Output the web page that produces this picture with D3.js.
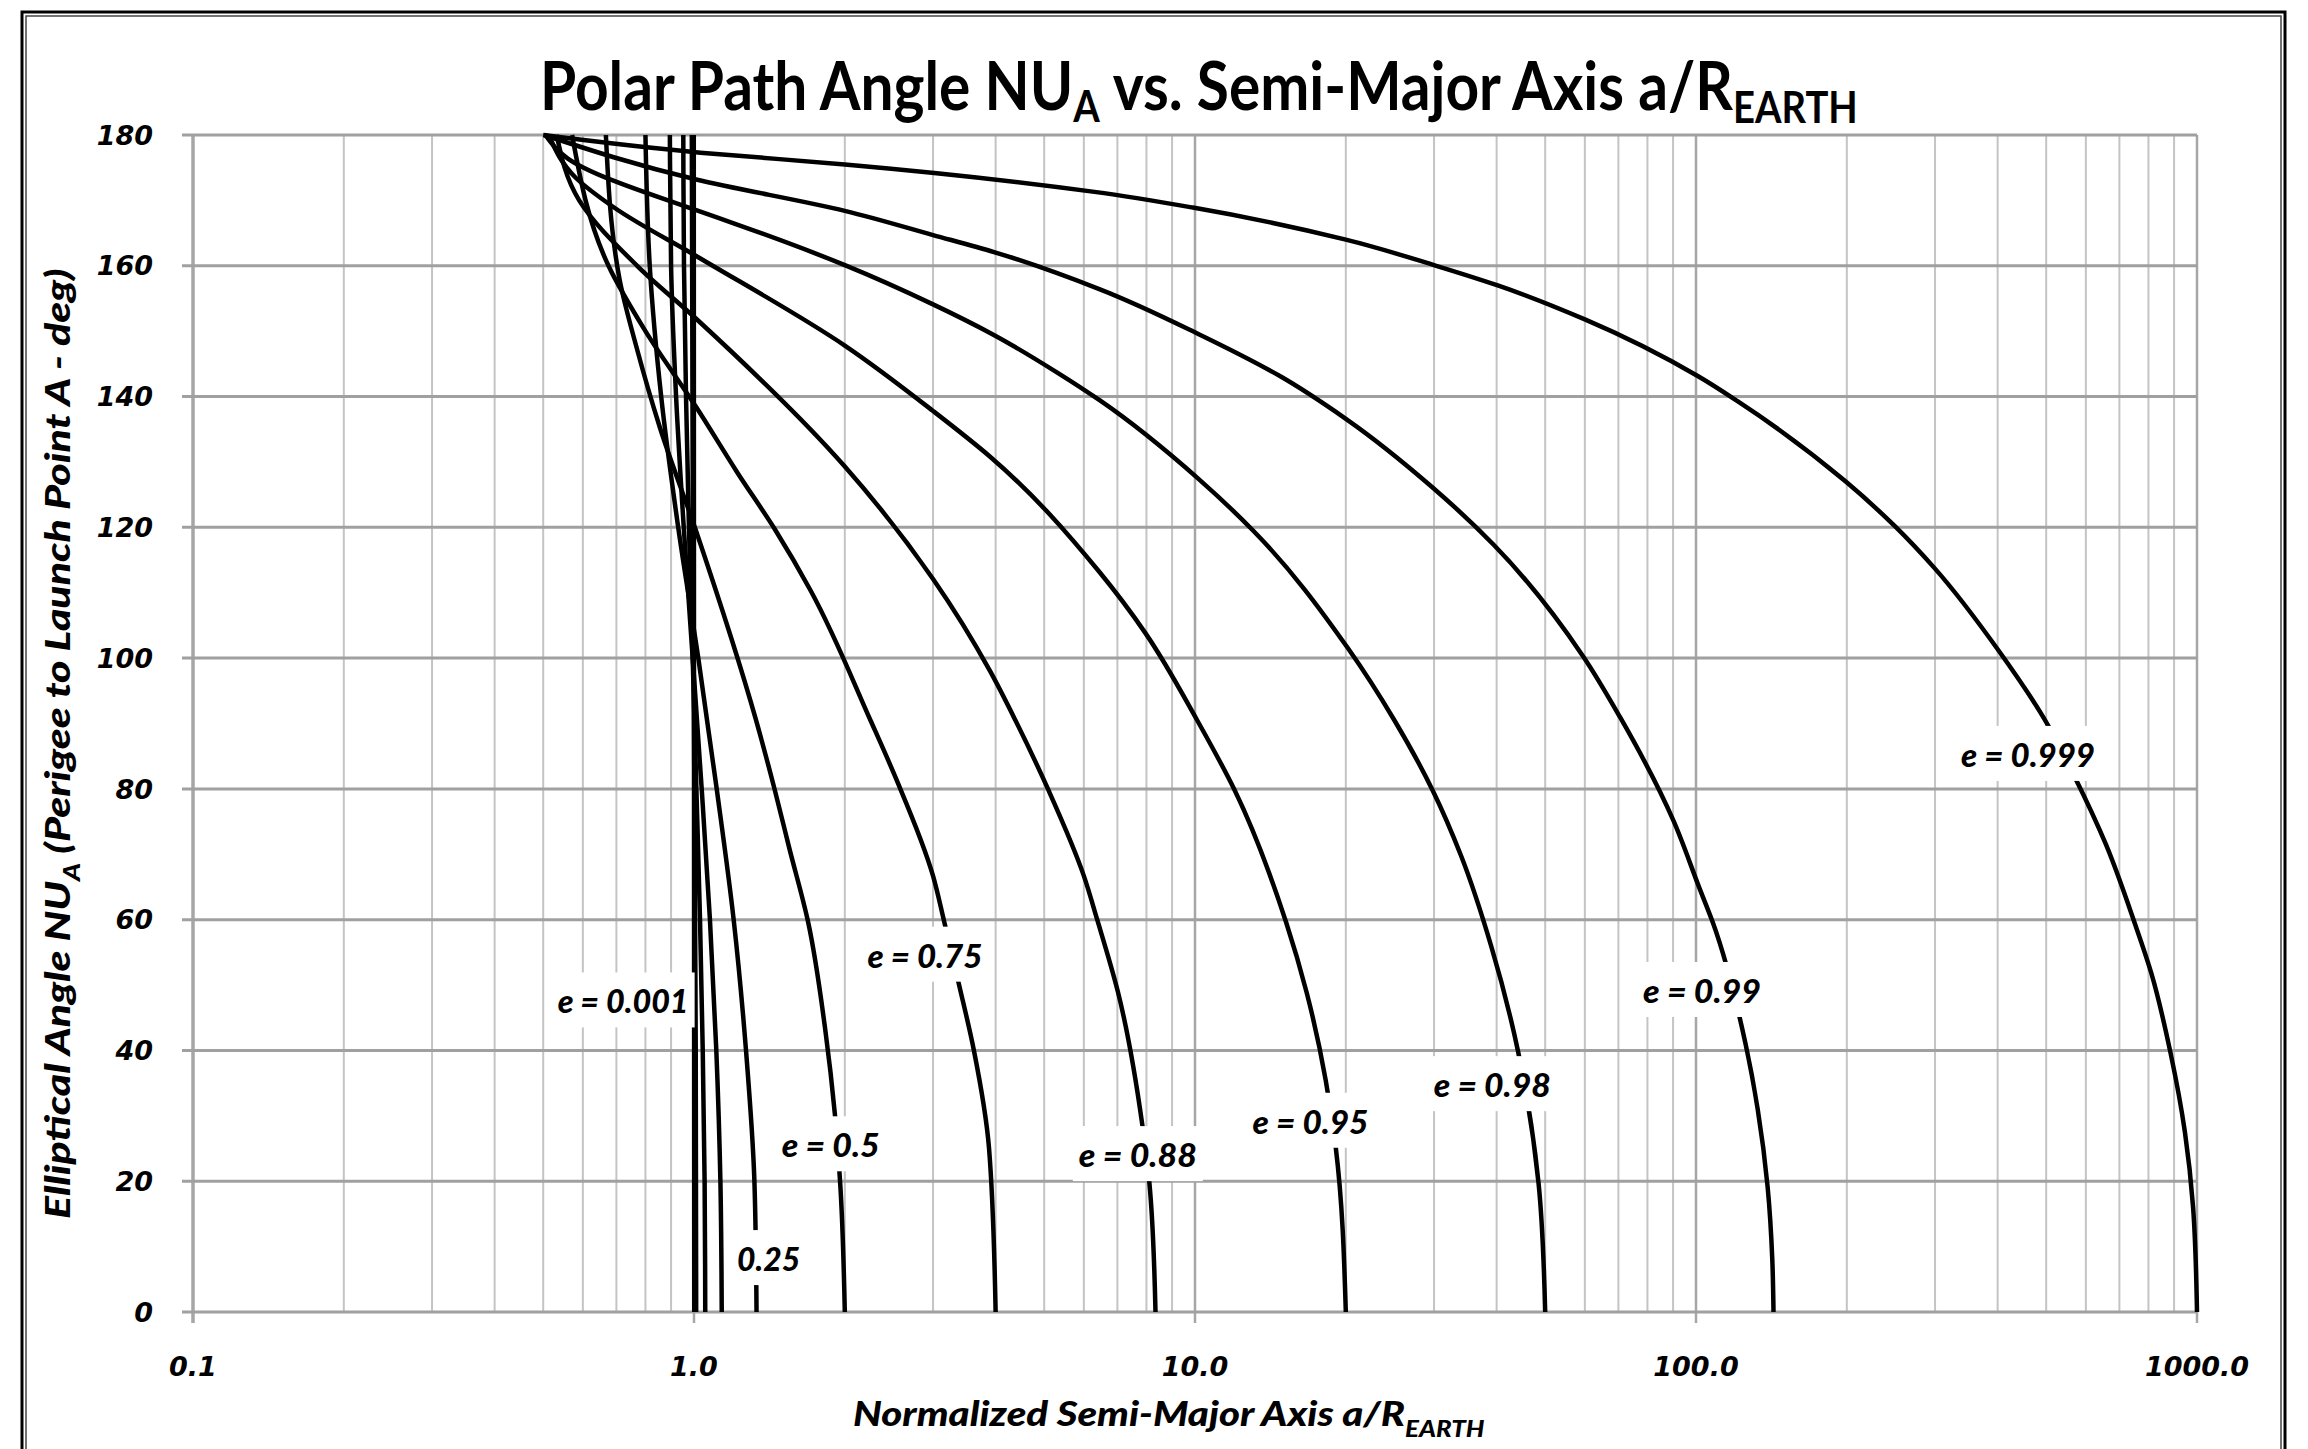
<!DOCTYPE html>
<html>
<head>
<meta charset="utf-8">
<script src="https://cdn.jsdelivr.net/npm/d3@7"></script>
<style>
  body { margin: 0; background: #fff; }
  svg { display: block; }
</style>
</head>
<body>
<div id="chart"></div>
<script>
// ---- data (a/R_earth, NU_A in deg) ----
const xTicks = [0.1, 1, 10, 100, 1000];
const xTickLabels = ["0.1", "1.0", "10.0", "100.0", "1000.0"];
const yTicks = [0, 20, 40, 60, 80, 100, 120, 140, 160, 180];

const e0_001 = [[0.999, 180], [1.0, 90], [1.001, 0]];
const e0_01 = [[0.990, 180], [0.993, 140], [0.995, 120], [1.0, 90], [1.005, 60], [1.008, 40], [1.010, 0]];
const e0_05 = [[0.952, 180], [0.955, 160], [0.964, 140], [0.977, 120], [0.994, 100], [1.011, 80],
  [1.028, 60], [1.041, 40], [1.050, 20], [1.053, 0]];
const e0_12 = [[0.895, 180], [0.90, 160], [0.921, 140], [0.954, 120], [0.994, 100], [1.036, 80],
  [1.076, 60], [1.108, 40], [1.129, 20], [1.136, 0]];
const e0_25 = [[0.80, 180], [0.816, 160], [0.86, 140], [0.93, 120], [1.02, 100], [1.11, 80],
  [1.2, 60], [1.27, 40], [1.32, 20], [1.333, 0]];
const e0_5 = [[0.667, 180], [0.71, 158], [0.77, 147.2], [0.853, 135.5], [1.01, 119.4], [1.33, 90.5],
  [1.45, 79.8], [1.55, 70.9], [1.69, 59.6], [1.83, 42.9], [1.91, 30.4], [1.96, 19.1], [2.0, 0]];
const e0_75 = [[0.571, 180], [0.675, 160], [0.8, 150], [1.01, 138.4], [1.22, 128.4], [1.45, 119.7],
  [1.71, 110.3], [2.25, 90.5], [2.53, 81.6], [3.0, 66.7], [3.16, 59.6], [3.38, 50.1], [3.62, 40.0],
  [3.88, 25.1], [4.0, 0]];
const e0_88 = [[0.532, 180], [0.59, 170], [0.77, 160], [1.01, 151.9], [2.0, 129.3], [3.0, 112.1],
  [3.9, 98], [4.38, 90.5], [5.1, 79.8], [6.0, 66.7], [6.38, 60], [7.02, 48.9], [7.85, 28.6],
  [8.11, 19.7], [8.34, 0]];
const e0_95 = [[0.513, 180], [0.58, 173.5], [0.696, 168.8], [1.01, 161.5], [2.0, 147.8], [3.0, 137.8],
  [3.9, 130.8], [6.44, 113.2], [7.95, 103.9], [10.1, 90.5], [12.0, 79.8], [15.2, 59.6], [16.7, 48.9],
  [19.1, 25.1], [20, 0]];
const e0_98 = [[0.505, 180], [0.56, 176.4], [1.01, 168.5], [1.2, 166.5], [2.0, 160.1], [3.0, 154.1],
  [3.95, 149.5], [5.3, 143.7], [6.46, 139.4], [10.2, 127.3], [13.1, 119.4], [20.2, 101.5], [25.0, 90.5],
  [29.8, 79.8], [34.0, 69.7], [39.0, 56.0], [44.1, 40.0], [48.5, 19.7], [50, 0]];
const e0_99 = [[0.502, 180], [1.01, 173.2], [2.0, 168.4], [3.0, 164.7], [3.97, 162.1], [6.46, 156.4],
  [10.2, 149.5], [14.8, 143.1], [20.0, 136.6], [29.8, 126.1], [39.5, 117.3], [59.5, 100.3], [70.5, 91.0],
  [90.2, 75.1], [101.5, 64.9], [108, 59.6], [125.5, 41.1], [132.8, 31.0], [139, 19.1], [142, 8], [142.8, 0]];
const e0_999 = [[0.5, 180], [1.03, 177.3], [2.0, 175.5], [6.3, 171.3], [9.9, 168.9], [20.0, 164.0],
  [30.3, 160.0], [40.2, 157.0], [60.0, 151.8], [101, 143.1], [121, 139.3], [199, 127.0], [250, 120.1],
  [299, 113.8], [404, 100.9], [493, 91.0], [572, 81.6], [658, 71.5], [750, 59.6], [810, 51.9],
  [885, 39.7], [946, 27.5], [982, 16.1], [1000, 0]];

const labelTexts = ["e = 0.001", "0.25", "e = 0.5", "e = 0.75", "e = 0.88", "e = 0.95", "e = 0.98", "e = 0.99", "e = 0.999"];
const labelA = [0.722, 1.409, 1.874, 2.89, 7.69, 17.0, 39.2, 102.8, 460];
const labelNu = [47.8, 8.4, 25.8, 54.8, 24.3, 29.4, 35.0, 49.4, 85.5];

// ---- layout ----
const width = 2308, height = 1449;
const plotLeft = 193, plotRight = 2197, plotTop = 135, plotBottom = 1312;
const labelWidths = [131, 63, 98, 115, 118, 116, 117, 118, 134];

const svg = d3.select("#chart").append("svg")
  .attr("width", width)
  .attr("height", height);

svg.append("rect").attr("width", width).attr("height", height).attr("fill", "#fff");

// chart area border (double line)
svg.append("rect").attr("x", 22).attr("y", 12).attr("width", 2263).attr("height", 1480)
  .attr("fill", "none").attr("stroke", "#000").attr("stroke-width", 3);
svg.append("rect").attr("x", 26).attr("y", 16).attr("width", 2255).attr("height", 1480)
  .attr("fill", "none").attr("stroke", "#444").attr("stroke-width", 1.5);

const x = d3.scaleLog().domain([0.1, 1000]).range([plotLeft, plotRight]);
const y = d3.scaleLinear().domain([0, 180]).range([plotBottom, plotTop]);

// grid
const minor = x.ticks().filter(t => !xTicks.some(m => Math.abs(m - t) < 1e-9));
svg.append("g").selectAll("line").data(minor).join("line")
  .attr("x1", d => x(d)).attr("x2", d => x(d))
  .attr("y1", plotTop).attr("y2", plotBottom)
  .attr("stroke", "#c4c4c4").attr("stroke-width", 2);

svg.append("g").selectAll("line").data(xTicks).join("line")
  .attr("x1", d => x(d)).attr("x2", d => x(d))
  .attr("y1", plotTop).attr("y2", plotBottom + 11)
  .attr("stroke", "#a6a6a6").attr("stroke-width", d => (d === 0.1 ? 3.5 : 2.5));

svg.append("g").selectAll("line").data(yTicks).join("line")
  .attr("x1", plotLeft - 11).attr("x2", plotRight)
  .attr("y1", d => y(d)).attr("y2", d => y(d))
  .attr("stroke", "#a0a0a0").attr("stroke-width", 3);

// tick labels
svg.append("g").selectAll("text").data(yTicks).join("text")
  .attr("x", 153).attr("y", d => y(d)).attr("dy", "0.36em")
  .attr("text-anchor", "end")
  .style("font-family", "'DejaVu Sans', sans-serif")
  .style("font-weight", "bold").style("font-style", "italic")
  .style("font-size", "27px")
  .text(d => d);

svg.append("g").selectAll("text").data(xTicks).join("text")
  .attr("x", d => x(d)).attr("y", 1376)
  .attr("text-anchor", "middle")
  .style("font-family", "'DejaVu Sans', sans-serif")
  .style("font-weight", "bold").style("font-style", "italic")
  .style("font-size", "27px")
  .text((d, i) => xTickLabels[i]);

// curves
const series = [e0_001, e0_01, e0_05, e0_12, e0_25, e0_5, e0_75, e0_88, e0_95, e0_98, e0_99, e0_999];
const line = d3.line()
  .x(d => x(d[0]))
  .y(d => y(d[1]))
  .curve(d3.curveMonotoneY);

svg.append("g").selectAll("path").data(series).join("path")
  .attr("d", line)
  .attr("fill", "none")
  .attr("stroke", "#000")
  .attr("stroke-width", 4.5)
  .attr("stroke-linejoin", "round");

// squeeze a text group horizontally to the reference width
function fitWidth(g, target, ox, oy, rot) {
  const w = g.node().getBBox().width;
  const s = target / w;
  g.attr("transform", `translate(${ox},${oy})` + (rot ? ` rotate(${rot})` : "") + ` scale(${s},1)`);
}

// data labels with white boxes
labelTexts.forEach((t, i) => {
  const cx = x(labelA[i]);
  const cy = y(labelNu[i]);
  const g = svg.append("g");
  const w = labelWidths[i];
  g.append("rect")
    .attr("x", cx - w / 2 - 6).attr("y", cy - 27)
    .attr("width", w + 12).attr("height", 55)
    .attr("fill", "#fff");
  const tg = g.append("g");
  tg.append("text")
    .attr("x", 0).attr("y", 0)
    .attr("text-anchor", "middle")
    .style("font-family", "Lato, sans-serif")
    .style("font-weight", "900").style("font-style", "italic")
    .style("font-size", "33px")
    .text(t);
  fitWidth(tg, w, cx, cy + 14, 0);
});

// title
const title = svg.append("g");
const tt = title.append("text").attr("x", 0).attr("y", 0)
  .style("font-family", "Lato, sans-serif").style("font-weight", "bold").style("font-size", "66px");
tt.append("tspan").text("Polar Path Angle NU");
tt.append("tspan").attr("dy", 12).style("font-size", "43px").text("A");
tt.append("tspan").attr("dy", -12).text(" vs. Semi-Major Axis a/R");
tt.append("tspan").attr("dy", 13).style("font-size", "43px").text("EARTH");
fitWidth(title, 1318, 540, 110, 0);

// x axis title
const xt = svg.append("g");
const xtt = xt.append("text").attr("x", 0).attr("y", 0)
  .style("font-family", "Lato, sans-serif").style("font-weight", "900").style("font-style", "italic")
  .style("font-size", "34px");
xtt.append("tspan").text("Normalized Semi-Major Axis a/R");
xtt.append("tspan").attr("dy", 11).style("font-size", "22px").text("EARTH");
fitWidth(xt, 632, 853, 1426, 0);

// y axis title
const yt = svg.append("g");
const ytt = yt.append("text").attr("x", 0).attr("y", 0)
  .style("font-family", "Lato, sans-serif").style("font-weight", "900").style("font-style", "italic")
  .style("font-size", "34px");
ytt.append("tspan").text("Elliptical Angle NU");
ytt.append("tspan").attr("dy", 10).style("font-size", "22px").text("A");
ytt.append("tspan").attr("dy", -10).text(" (Perigee to Launch Point A - deg)");
fitWidth(yt, 951, 70, 1219, -90);
</script>
</body>
</html>
